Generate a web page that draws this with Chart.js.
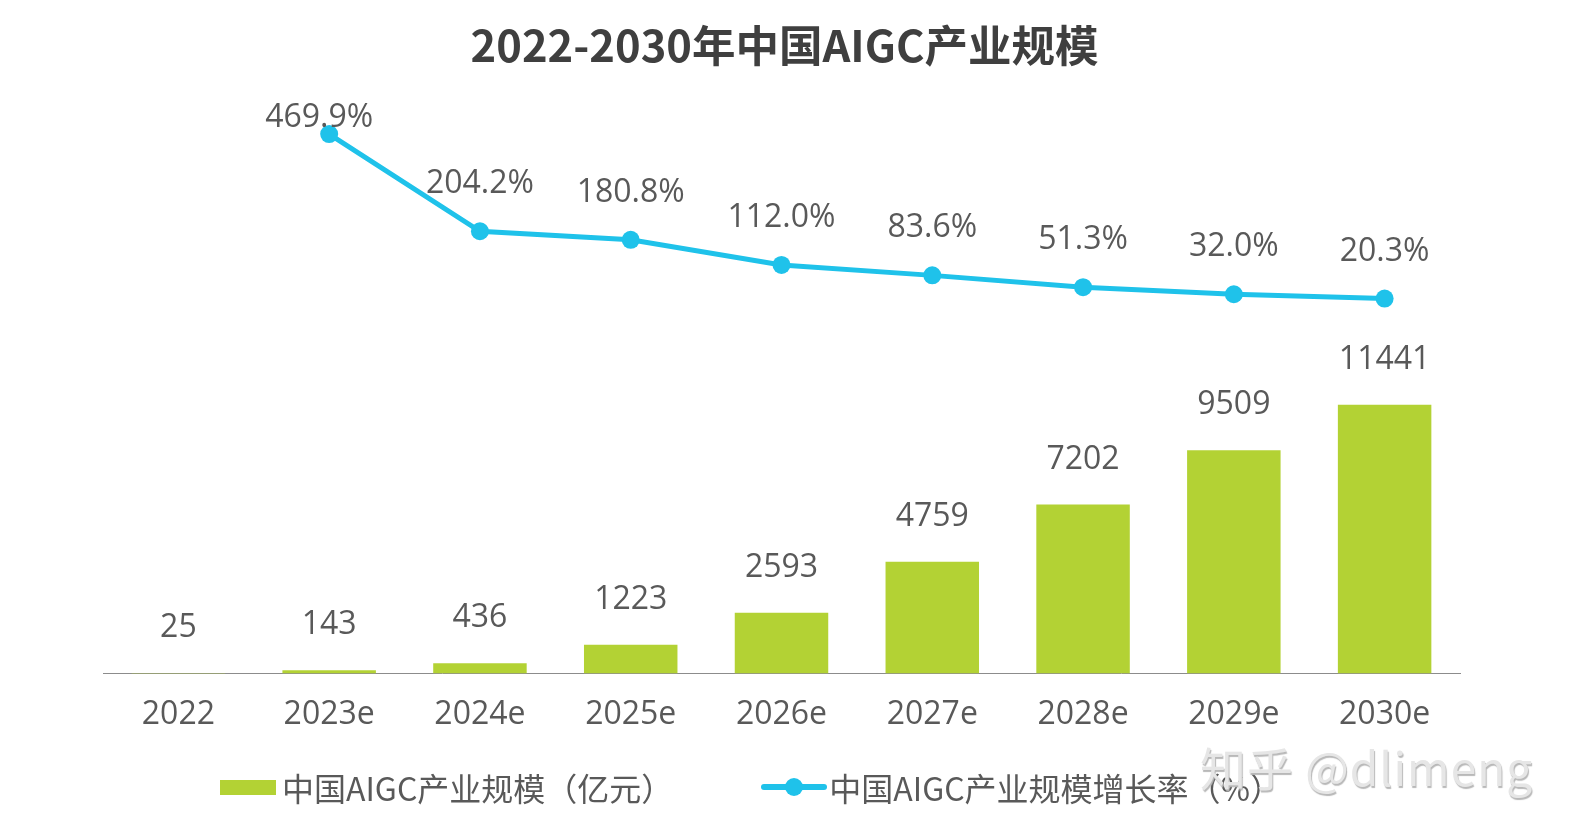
<!DOCTYPE html>
<html>
<head>
<meta charset="utf-8">
<script src="https://cdn.jsdelivr.net/npm/chart.js@4.4.1/dist/chart.umd.min.js"></script>
<style>
body{margin:0;background:#fff;font-family:"Open Sans","Noto Sans CJK SC",sans-serif;}
#wrap{position:relative;width:1569px;height:838px;}
#title{position:absolute;left:0;top:14px;width:1569px;text-align:center;font-family:"Noto Sans CJK SC",sans-serif;font-weight:bold;font-size:43.5px;color:#3f3f3f;line-height:60px;}
#legend{position:absolute;left:220px;top:764px;display:flex;align-items:center;font-family:"Noto Sans CJK SC",sans-serif;font-size:32px;color:#595959;}
.item{display:flex;align-items:center;}
.box{width:56px;height:15px;background:#b3d234;margin-right:6px;}
.lineSym{position:relative;width:66px;height:18px;margin-right:2px;}
.lineSym:before{content:"";position:absolute;left:0;right:0;top:6px;height:6px;border-radius:3px;background:#1fc2ea;}
.lineSym:after{content:"";position:absolute;left:24px;top:0;width:18px;height:18px;border-radius:9px;background:#1fc2ea;}
#mark{position:absolute;left:1200px;top:733px;font-family:"Noto Sans CJK SC",sans-serif;font-size:46px;color:#e6e6e6;text-shadow:1px 2px 1px #b8b8b8;letter-spacing:1px;}
</style>
</head>
<body>
<div id="wrap">
<canvas id="chart" width="1569" height="838"></canvas>
<div id="title">2022-2030年中国AIGC产业规模</div>
<div id="legend"></div>
<div id="mark">知乎 @dlimeng</div>
</div>
<script>
const years = ["2022","2023e","2024e","2025e","2026e","2027e","2028e","2029e","2030e"];
const scale = [25,143,436,1223,2593,4759,7202,9509,11441];
const growth = [null,469.9,204.2,180.8,112.0,83.6,51.3,32.0,20.3];
const barName = "中国AIGC产业规模（亿元）";
const lineName = "中国AIGC产业规模增长率（%）";

const labelPlugin = {
  id:'labels',
  afterDatasetsDraw(chart){
    const c = chart.ctx;
    c.save();
    c.font = '32px "Open Sans","Noto Sans CJK SC"';
    c.fillStyle = '#595959';
    c.textAlign = 'center';
    c.textBaseline = 'middle';
    chart.getDatasetMeta(0).data.forEach((b,i)=>{
      c.fillText(String(scale[i]), b.x, b.y-45);
    });
    chart.getDatasetMeta(1).data.forEach((p,i)=>{
      if(growth[i]==null) return;
      const off = i===1 ? 16 : 47;
      const dx = i===1 ? -10 : 0;
      c.fillText(growth[i].toFixed(1)+'%', p.x+dx, p.y-off);
    });
    c.restore();
  }
};

const ctx = document.getElementById('chart');
new Chart(ctx,{
  data:{
    labels:years,
    datasets:[
      {type:'bar',label:barName,data:scale,backgroundColor:'#b3d234',yAxisID:'y',
       barPercentage:0.62,categoryPercentage:1,order:2},
      {type:'line',label:lineName,data:growth,borderColor:'#1fc2ea',backgroundColor:'#1fc2ea',
       borderWidth:5,pointRadius:9,pointBackgroundColor:'#1fc2ea',pointBorderWidth:0,
       yAxisID:'y2',tension:0,order:1}
    ]
  },
  options:{
    responsive:false,
    animation:false,
    layout:{padding:{top:100,left:103,right:109,bottom:82}},
    plugins:{legend:{display:false},title:{display:false},tooltip:{enabled:false}},
    scales:{
      x:{grid:{display:false,drawTicks:false},
         border:{display:true,color:'#8c8c8c',width:1},
         ticks:{padding:22,color:'#595959',font:{family:'"Open Sans"',size:32}}},
      y:{display:false,min:0,max:24419},
      y2:{display:false,min:-1005,max:563}
    }
  },
  plugins:[labelPlugin]
});

const lg = document.getElementById('legend');
lg.innerHTML = '<div class="item"><div class="box"></div>'+barName+'</div>'+
  '<div class="item" style="margin-left:88px"><div class="lineSym"></div>'+lineName+'</div>';
</script>
</body>
</html>
